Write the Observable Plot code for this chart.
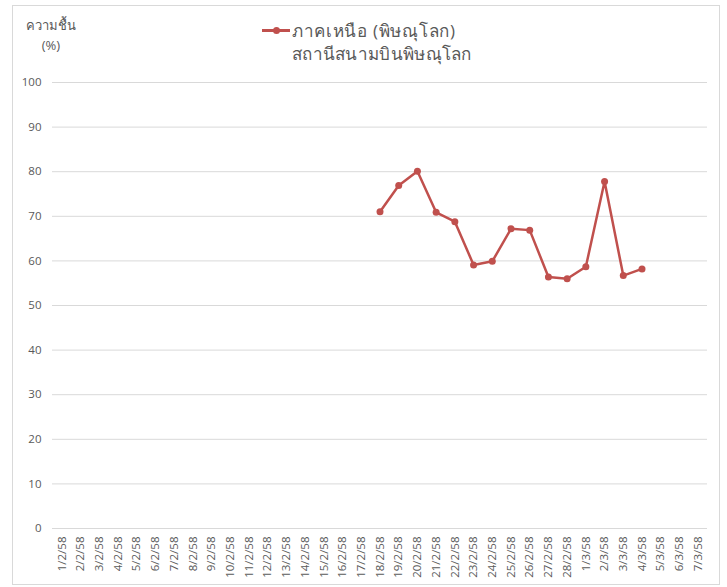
<!DOCTYPE html>
<html>
<head>
<meta charset="utf-8">
<script src="https://cdn.jsdelivr.net/npm/d3@7"></script>
<script src="https://cdn.jsdelivr.net/npm/@observablehq/plot@0.6"></script>
<style>
  body { margin: 0; background: #fff; font-family: "Open Sans", "Noto Sans", sans-serif; }
  #wrap { position: relative; width: 727px; height: 587px; overflow: hidden; }
  #border { position: absolute; left: 12px; top: 5px; width: 708px; height: 580px; border: 1px solid #d9d9d9; box-sizing: border-box; }
  #ytitle { position: absolute; left: 26px; top: 15px; font-size: 13px; color: #595959; text-align: center; line-height: 20px; }
  #legend { position: absolute; left: 262px; top: 19px; font-size: 17px; color: #595959; line-height: 23px; }
  #legend .r1 { letter-spacing: 0.7px; white-space: nowrap; }
  #legend .sw { display: inline-block; vertical-align: top; position: relative; width: 28px; height: 23px; margin-right: 2px; }
  #legend .sw:before { content: ""; position: absolute; left: 0; right: 0; top: 10px; height: 2.5px; background: #c0504d; }
  #legend .sw:after { content: ""; position: absolute; left: 11px; top: 7.5px; width: 7px; height: 7px; border-radius: 50%; background: #c0504d; }
  #legend .l2 { padding-left: 30px; letter-spacing: 0.3px; white-space: nowrap; }
  svg { position: absolute; left: 0; top: 0; }
</style>
</head>
<body>
<div id="wrap">
  <div id="border"></div>
  <div id="ytitle">ความชื้น<br>(%)</div>
  <div id="legend"><div class="r1"><span class="sw"></span>ภาคเหนือ (พิษณุโลก)</div><div class="l2">สถานีสนามบินพิษณุโลก</div></div>
</div>
<script>
const dates = ["1/2/58","2/2/58","3/2/58","4/2/58","5/2/58","6/2/58","7/2/58","8/2/58","9/2/58","10/2/58",
  "11/2/58","12/2/58","13/2/58","14/2/58","15/2/58","16/2/58","17/2/58","18/2/58","19/2/58","20/2/58",
  "21/2/58","22/2/58","23/2/58","24/2/58","25/2/58","26/2/58","27/2/58","28/2/58","1/3/58","2/3/58",
  "3/3/58","4/3/58","5/3/58","6/3/58","7/3/58"];
const humidity = [null,null,null,null,null,null,null,null,null,null,
  null,null,null,null,null,null,null,71.0,76.9,80.1,
  70.9,68.8,59.1,59.9,67.2,66.9,56.4,56.0,58.7,77.8,
  56.7,58.2,null,null,null];
const yTicks = [0,10,20,30,40,50,60,70,80,90,100];
const seriesName = "ภาคเหนือ (พิษณุโลก) สถานีสนามบินพิษณุโลก";

const data = dates.map((d, i) => ({date: d, value: humidity[i]})).filter(d => d.value != null);

const chart = Plot.plot({
  width: 727,
  height: 587,
  marginLeft: 52,
  marginRight: 20,
  marginTop: 82,
  marginBottom: 59,
  style: { fontFamily: "'Open Sans', 'Noto Sans', sans-serif", fontSize: "11px", color: "#595959", background: "transparent" },
  x: { type: "point", domain: dates, padding: 0.5, round: false, label: null },
  y: { domain: [0, 100], ticks: yTicks, label: null },
  marks: [
    Plot.gridY(yTicks, { stroke: "#d9d9d9", strokeOpacity: 1, strokeWidth: 1 }),
    Plot.axisY(yTicks, { tickSize: 0, tickPadding: 11, fontSize: 11.5, fill: "#595959", label: null }),
    Plot.axisX({ tickSize: 0, tickRotate: -90, tickPadding: 8, fontSize: 11.5, fill: "#595959", label: null }),
    Plot.line(data, { x: "date", y: "value", stroke: "#c0504d", strokeWidth: 2.5 }),
    Plot.dot(data, { x: "date", y: "value", r: 3.5, fill: "#c0504d", stroke: "none", title: d => `${seriesName}: ${d.date} ${d.value}` })
  ]
});
document.getElementById("wrap").appendChild(chart);
</script>
</body>
</html>
